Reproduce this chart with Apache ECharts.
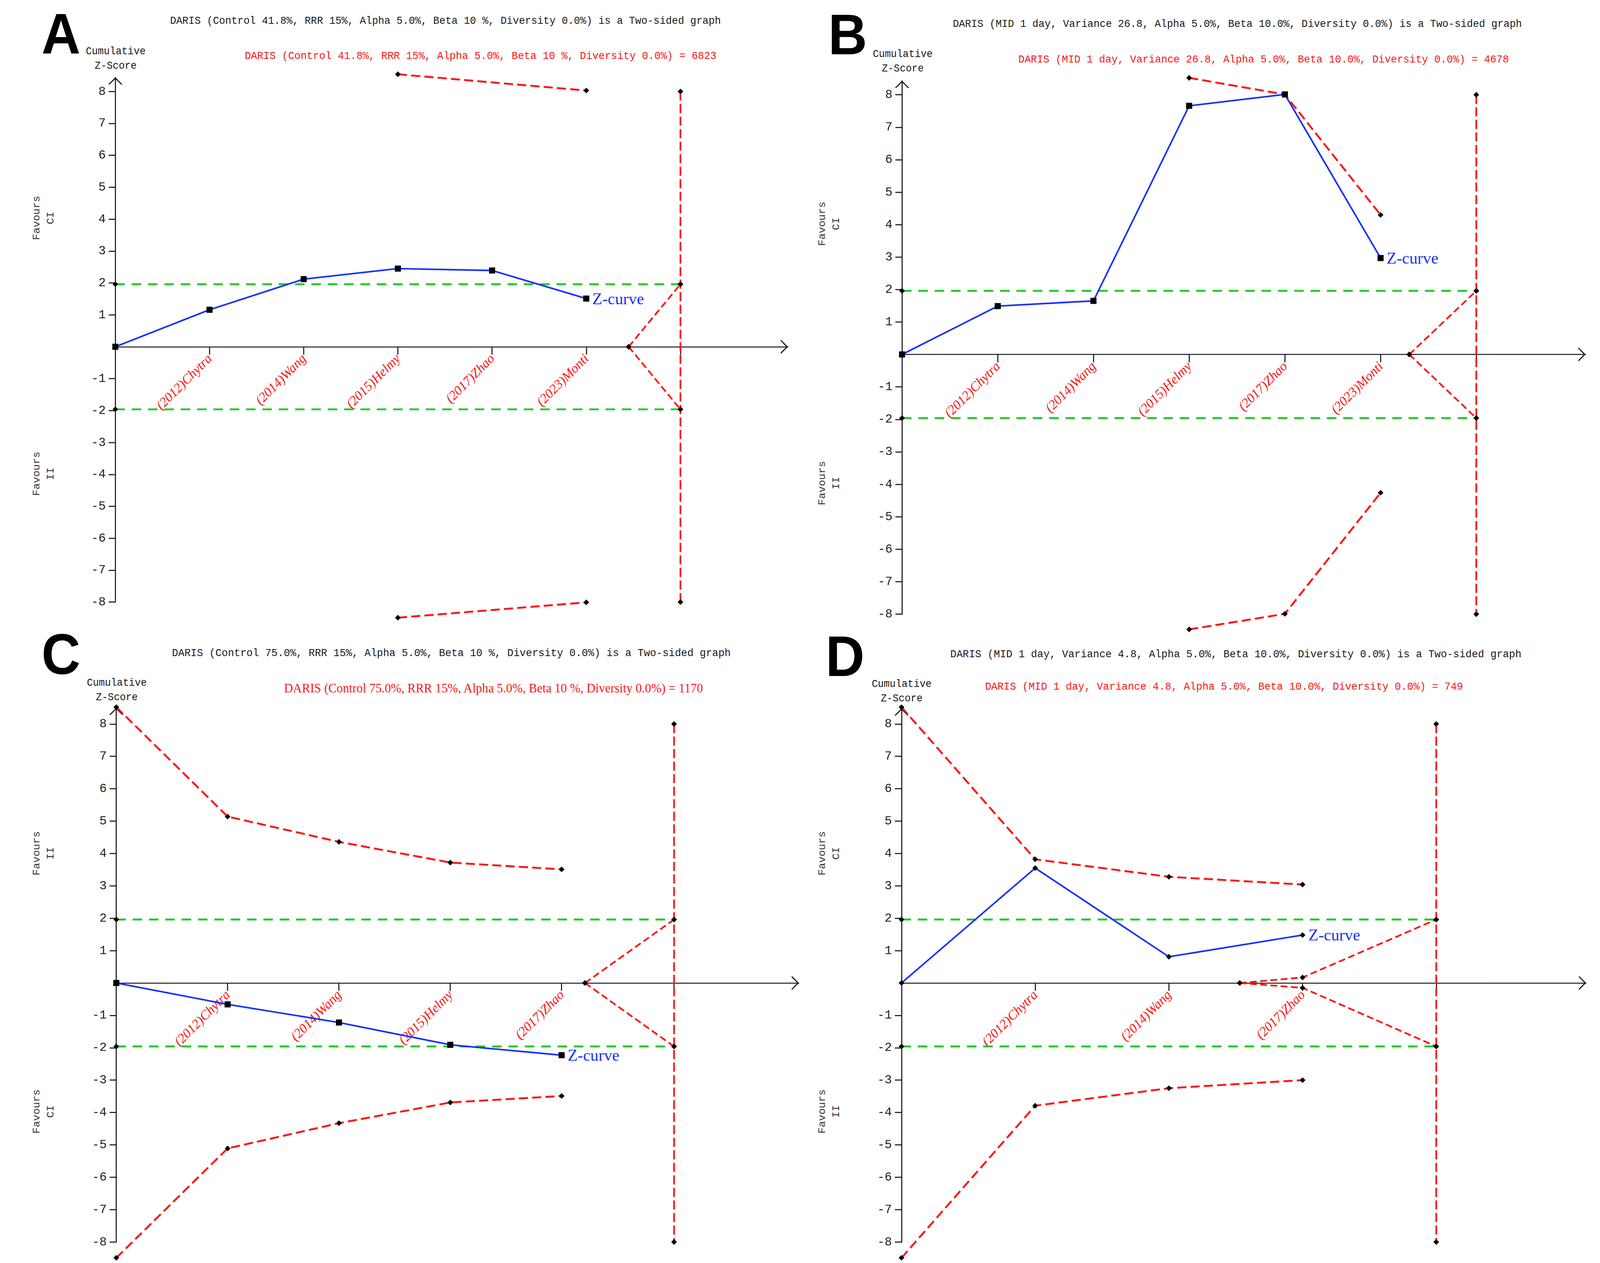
<!DOCTYPE html>
<html>
<head>
<meta charset="utf-8">
<script src="https://cdn.jsdelivr.net/npm/echarts@6/dist/echarts.min.js"></script>
<style>
html,body{margin:0;padding:0;background:#ffffff;overflow:hidden;}
#chart{width:100vw;height:100vh;}
</style>
</head>
<body>
<div id="chart"></div>
<script>
// ---------------- DATA ----------------
const panelLetters = ['A', 'B', 'C', 'D'];
const topTitles = [
  'DARIS (Control 41.8%, RRR 15%, Alpha 5.0%, Beta 10 %, Diversity 0.0%) is a Two-sided graph',
  'DARIS (MID 1 day, Variance 26.8, Alpha 5.0%, Beta 10.0%, Diversity 0.0%) is a Two-sided graph',
  'DARIS (Control 75.0%, RRR 15%, Alpha 5.0%, Beta 10 %, Diversity 0.0%) is a Two-sided graph',
  'DARIS (MID 1 day, Variance 4.8, Alpha 5.0%, Beta 10.0%, Diversity 0.0%) is a Two-sided graph'
];
const risTitles = [
  'DARIS (Control 41.8%, RRR 15%, Alpha 5.0%, Beta 10 %, Diversity 0.0%) = 6823',
  'DARIS (MID 1 day, Variance 26.8, Alpha 5.0%, Beta 10.0%, Diversity 0.0%) = 4678',
  'DARIS (Control 75.0%, RRR 15%, Alpha 5.0%, Beta 10 %, Diversity 0.0%) = 1170',
  'DARIS (MID 1 day, Variance 4.8, Alpha 5.0%, Beta 10.0%, Diversity 0.0%) = 749'
];
const yAxisTitle = 'Cumulative\nZ-Score';
const upperFavours = ['CI', 'CI', 'II', 'CI'];
const lowerFavours = ['II', 'II', 'CI', 'II'];
const zCurveLabel = 'Z-curve';

const studiesA = ['(2012)Chytra', '(2014)Wang', '(2015)Helmy', '(2017)Zhao', '(2023)Monti'];
const studiesB = ['(2012)Chytra', '(2014)Wang', '(2015)Helmy', '(2017)Zhao', '(2023)Monti'];
const studiesC = ['(2012)Chytra', '(2014)Wang', '(2015)Helmy', '(2017)Zhao'];
const studiesD = ['(2012)Chytra', '(2014)Wang', '(2017)Zhao'];
const studyPosA = [1, 2, 3, 4, 5];
const studyPosB = [1, 2, 3, 4, 5];
const studyPosC = [1, 2, 3, 4];
const studyPosD = [1, 2, 3];

const zxA = [0, 1, 2, 3, 4, 5];
const zA  = [0, 1.16, 2.12, 2.45, 2.39, 1.51];
const zxB = [0, 1, 2, 3, 4, 5];
const zB  = [0, 1.49, 1.65, 7.66, 8.01, 2.97];
const zxC = [0, 1, 2, 3, 4];
const zC  = [0, -0.66, -1.22, -1.91, -2.23];
const zxD = [0, 1, 2, 3];
const zD  = [0, 3.55, 0.81, 1.48];

const bxA = [3, 5];
const upperA = [8.54, 8.03];
const lowerA = [-8.49, -8.01];
const bxB = [3, 4, 5];
const upperB = [8.52, 8.01, 4.30];
const lowerB = [-8.47, -7.99, -4.26];
const bxC = [0, 1, 2, 3, 4];
const upperC = [8.52, 5.14, 4.36, 3.72, 3.51];
const lowerC = [-8.49, -5.11, -4.33, -3.69, -3.49];
const bxD = [0, 1, 2, 3];
const upperD = [8.52, 3.82, 3.28, 3.04];
const lowerD = [-8.49, -3.79, -3.25, -3.00];

const fxA = [5.45, 6.0];
const futUpA = [0, 1.96];
const futLoA = [0, -1.96];
const fxB = [5.30, 6.0];
const futUpB = [0, 1.96];
const futLoB = [0, -1.96];
const fxC = [4.21, 5.01];
const futUpC = [0, 1.96];
const futLoC = [0, -1.96];
const fxD = [2.53, 3, 4.0];
const futUpD = [0, 0.17, 1.96];
const futLoD = [0, -0.15, -1.96];

const risPos = [6.0, 6.0, 5.01, 4.0];
const risSpan = [8, -8];
const conventional = 1.96;
const yTickValues = [-8, -7, -6, -5, -4, -3, -2, -1, 1, 2, 3, 4, 5, 6, 7, 8];

const panels = [
  {studies: studiesA, pos: studyPosA, zx: zxA, z: zA, bx: bxA, up: upperA, lo: lowerA, fx: fxA, fu: futUpA, fl: futLoA, zSymbol: 'rect'},
  {studies: studiesB, pos: studyPosB, zx: zxB, z: zB, bx: bxB, up: upperB, lo: lowerB, fx: fxB, fu: futUpB, fl: futLoB, zSymbol: 'rect'},
  {studies: studiesC, pos: studyPosC, zx: zxC, z: zC, bx: bxC, up: upperC, lo: lowerC, fx: fxC, fu: futUpC, fl: futLoC, zSymbol: 'rect'},
  {studies: studiesD, pos: studyPosD, zx: zxD, z: zD, bx: bxD, up: upperD, lo: lowerD, fx: fxD, fu: futUpD, fl: futLoD, zSymbol: 'diamond'}
];

// ---------------- LAYOUT / STYLE (reference pixel units, mapped to the viewport) ----------------
const VW = window.innerWidth || 4328, VH = window.innerHeight || 3234;
const sx = VW / 4328, sy = VH / 3234, s = Math.sqrt(sx * sy);
const X = v => v * sx, Y = v => v * sy, F = v => v * s;

const layout = [
  {left: 312,    top: 198.3,  width: 1819,   height: 1343.3, xMax: 7.14, yMax: 8.44},
  {left: 2440,   top: 206.9,  width: 1848.5, height: 1365.7, xMax: 7.14, yMax: 8.43},
  {left: 314.6,  top: 1812.4, width: 1846,   height: 1367.8, xMax: 6.13, yMax: 8.5},
  {left: 2438.6, top: 1814,   width: 1851.4, height: 1366.2, xMax: 5.12, yMax: 8.48}
];
const textPos = [
  {letter: [165, 86],   t1: [1205, 54],   t2: [1300, 143],  cum: [313, 150],    fav: [119, 558, 1213],  t1Size: 27.6},
  {letter: [2293, 88],  t1: [3347, 62],   t2: [3418, 152],  cum: [2442, 157],   fav: [2243, 573, 1237], t1Size: 27.6},
  {letter: [165, 1675], t1: [1221, 1672], t2: [1335, 1762], cum: [316, 1767],   fav: [119, 2185, 2846], t1Size: 28},
  {letter: [2286, 1680],t1: [3343, 1675], t2: [3311, 1758], cum: [2439, 1770],  fav: [2243, 2185, 2846], t1Size: 28}
];
const RED = '#ff1414';
const GREEN = '#1fcc2a';
const BLUE = '#1530ff';
const AXIS = '#1a1a1a';
const MONO = '"Liberation Mono", "DejaVu Sans Mono", monospace';
const SERIF = '"Liberation Serif", "DejaVu Serif", serif';
const ARROW = 'path://M0,18L18,0L36,18L32,18L18,4L4,18Z';

function pts(xs, ys) { return xs.map((x, i) => [x, ys[i]]); }

const grids = [], xAxes = [], yAxes = [], series = [], graphics = [];

// text in reference units: font size follows vertical scale, width squeezed by sx/sy
function txt(x, y, text, fill, size, family, extra, rotated) {
  const el = {type: 'text', x: X(x), y: Y(y), silent: true,
    style: Object.assign({text: text, fill: fill, font: (extra && extra.weight ? extra.weight + ' ' : '') + (size * sy) + 'px ' + family,
      textAlign: 'center', align: 'center', textVerticalAlign: 'middle', verticalAlign: 'middle'},
      extra && extra.lineHeight ? {lineHeight: extra.lineHeight * sy} : {})};
  if (rotated) { el.rotation = Math.PI / 2; el.scaleY = sx / sy; }
  else { el.scaleX = sx / sy; }
  return el;
}

panels.forEach((p, i) => {
  const L = layout[i];
  const gh = Y(L.height);
  grids.push({left: X(L.left), top: Y(L.top), width: X(L.width), height: gh, containLabel: false});
  xAxes.push({
    gridIndex: i, type: 'value', min: 0, max: L.xMax, position: 'bottom',
    offset: -gh * 8 / (8 + L.yMax),
    axisLine: {show: true, onZero: false, lineStyle: {color: AXIS, width: F(2.8)},
      symbol: ['none', ARROW], symbolSize: [F(38), F(19)], symbolOffset: [0, -F(9)]},
    axisTick: {show: true, customValues: p.pos.concat([risPos[i]]), length: Y(20), lineStyle: {color: AXIS, width: F(2.8)}},
    axisLabel: {show: true, customValues: p.pos, rotate: 45, margin: Y(24),
      formatter: v => p.studies[Math.round(v) - 1] || '',
      color: RED, fontFamily: SERIF, fontStyle: 'italic', fontSize: F(35)},
    splitLine: {show: false}
  });
  yAxes.push({
    gridIndex: i, type: 'value', min: -8, max: L.yMax,
    axisLine: {show: true, onZero: false, lineStyle: {color: AXIS, width: F(2.8)},
      symbol: ['none', ARROW], symbolSize: [F(38), F(19)], symbolOffset: [0, -F(9)]},
    axisTick: {show: true, customValues: yTickValues, length: X(18), lineStyle: {color: AXIS, width: F(2.8)}},
    axisLabel: {show: true, customValues: yTickValues, margin: X(26),
      formatter: v => String(v), color: '#222', fontFamily: MONO, fontSize: F(32)},
    splitLine: {show: false}
  });

  const common = {type: 'line', xAxisIndex: i, yAxisIndex: i, clip: false, silent: true,
    animation: false, itemStyle: {color: '#000'}, symbol: 'diamond', symbolSize: F(15)};
  series.push(Object.assign({}, common, {z: 2, data: [[0, conventional], [risPos[i], conventional]],
    lineStyle: {color: GREEN, width: F(5), type: [F(25), F(18)]}}));
  series.push(Object.assign({}, common, {z: 2, data: [[0, -conventional], [risPos[i], -conventional]],
    lineStyle: {color: GREEN, width: F(5), type: [F(25), F(18)]}}));
  series.push(Object.assign({}, common, {z: 3, data: risSpan.map(v => [risPos[i], v]),
    lineStyle: {color: RED, width: F(4.5), type: [F(24), F(9)]}}));
  series.push(Object.assign({}, common, {z: 3, data: pts(p.bx, p.up),
    lineStyle: {color: RED, width: F(5), type: [F(24), F(11)]}}));
  series.push(Object.assign({}, common, {z: 3, data: pts(p.bx, p.lo),
    lineStyle: {color: RED, width: F(5), type: [F(24), F(11)]}}));
  series.push(Object.assign({}, common, {z: 3, data: pts(p.fx, p.fu),
    lineStyle: {color: RED, width: F(4.5), type: [F(18), F(9)]}}));
  series.push(Object.assign({}, common, {z: 3, data: pts(p.fx, p.fl),
    lineStyle: {color: RED, width: F(4.5), type: [F(18), F(9)]}}));
  const zData = pts(p.zx, p.z).map((v, k, arr) => k === arr.length - 1 ? {
    value: v,
    label: {show: true, position: 'right', distance: F(8), formatter: zCurveLabel,
      color: BLUE, fontFamily: SERIF, fontSize: F(43)}
  } : v);
  series.push(Object.assign({}, common, {z: 5, data: zData, symbol: p.zSymbol,
    symbolSize: p.zSymbol === 'rect' ? F(16) : F(15),
    lineStyle: {color: BLUE, width: F(4.2), type: 'solid'}}));

  const T = textPos[i];
  graphics.push(txt(T.letter[0], T.letter[1], panelLetters[i], '#000', 146, '"Liberation Sans", Arial, sans-serif', {weight: 'bold'}));
  graphics.push(txt(T.t1[0], T.t1[1], topTitles[i], '#1a1a1a', T.t1Size, MONO));
  graphics.push(i === 2 ? txt(T.t2[0], T.t2[1], risTitles[i], RED, 33.5, SERIF)
                        : txt(T.t2[0], T.t2[1], risTitles[i], RED, 28, MONO));
  graphics.push(txt(T.cum[0], T.cum[1], yAxisTitle, '#1a1a1a', 27, MONO, {lineHeight: 37}));
  graphics.push(txt(T.fav[0], T.fav[1], 'Favours\n' + upperFavours[i], '#333', 27, MONO, {lineHeight: 38}, true));
  graphics.push(txt(T.fav[0], T.fav[2], 'Favours\n' + lowerFavours[i], '#333', 27, MONO, {lineHeight: 38}, true));
});

const chart = echarts.init(document.getElementById('chart'), null, {renderer: 'svg', width: VW, height: VH});
chart.setOption({
  backgroundColor: '#ffffff',
  animation: false,
  grid: grids,
  xAxis: xAxes,
  yAxis: yAxes,
  series: series,
  graphic: {elements: graphics}
});
</script>
</body>
</html>
